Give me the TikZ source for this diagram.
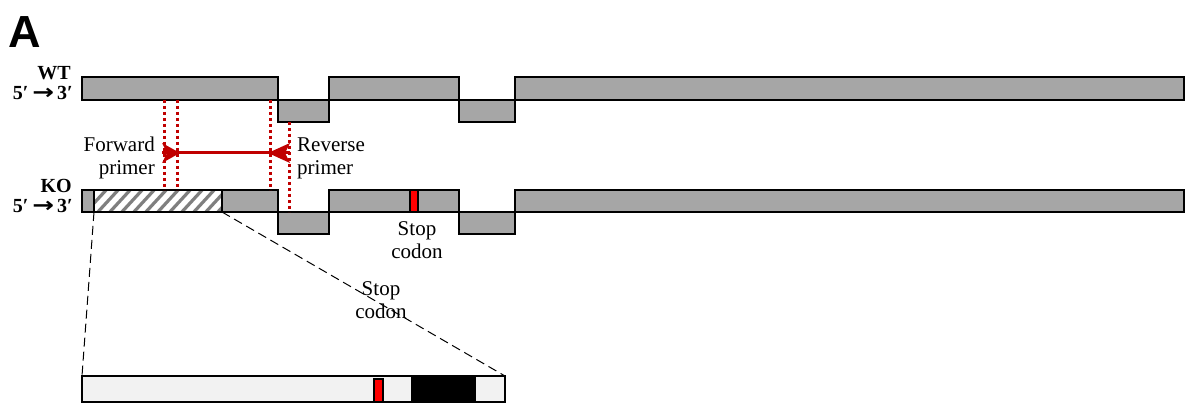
\documentclass[tikz,border=0pt]{standalone}
\usepackage{fontspec}
\setmainfont{Liberation Serif}
\newfontfamily\panelfont{Liberation Sans}
\newfontfamily\symfont{DejaVu Sans}
\usetikzlibrary{arrows.meta}
\definecolor{exongray}{HTML}{A6A6A6}
\definecolor{stripegray}{HTML}{7F7F7F}
\definecolor{primerred}{HTML}{C00000}
\definecolor{stopred}{HTML}{FF0000}
\definecolor{zoomfill}{HTML}{F2F2F2}
\newcommand{\dirarrow}{\hspace{0.2em}\scalebox{1.3}[1.05]{\symfont\bfseries →}\hspace{0.15em}}
\begin{document}
\begin{tikzpicture}[x=1pt,y=-1pt,
  exon/.style={draw=black, line width=2.6pt, fill=exongray},
  box/.style={draw=black, line width=2.6pt, rectangle, inner sep=0pt, outer sep=0pt, anchor=north west},
  stopmark/.style={draw=black, line width=2pt, fill=stopred},
  primerline/.style={draw=primerred, line width=3pt},
  primerhead/.style={fill=primerred},
  guide/.style={draw=primerred, line width=3pt, dash pattern=on 3pt off 3pt},
  zoomline/.style={draw=black, line width=1pt, dash pattern=on 9pt off 5pt},
  lab/.style={font=\fontsize{21}{23}\selectfont, inner sep=0pt},
  strand/.style={font=\bfseries\fontsize{20}{20}\selectfont, inner sep=0pt, anchor=base east},
  hatchline/.style={draw=stripegray, line width=3.2pt}]
\useasboundingbox (0,0) rectangle (1187,403);

% panel letter
\node[font=\panelfont\bfseries\fontsize{45}{45}\selectfont, inner sep=0pt, anchor=base west] (panel) at (8,48) {A};

% strand labels
\node[strand] (wt) at (71,80) {WT};
\node[strand] (wtdir) at (73,100) {5′\dirarrow3′};
\node[strand] (ko) at (72,193) {KO};
\node[strand] (kodir) at (73,213) {5′\dirarrow3′};

% WT gene model
\draw[exon] (82,77) rectangle (278,100);
\draw[exon] (278,100) rectangle (329,122);
\draw[exon] (329,77) rectangle (459,100);
\draw[exon] (459,100) rectangle (515,122);
\draw[exon] (515,77) rectangle (1184,100);

% KO gene model
\draw[exon] (82,190) rectangle (278,212);
\draw[exon] (278,212) rectangle (329,234);
\draw[exon] (329,190) rectangle (459,212);
\draw[exon] (459,212) rectangle (515,234);
\draw[exon] (515,190) rectangle (1184,212);

% replaced (hatched) region
\fill[white] (94,190) rectangle (222,212);
\begin{scope}
  \clip (94,190) rectangle (222,212);
  \foreach \s in {72,84,...,240}{\draw[hatchline] (\s,214) -- ++(24,-26);}
\end{scope}
\node[box, minimum width=128, minimum height=22] (mut) at (94,190) {};

% premature stop codon in the KO allele
\draw[stopmark] (410,190) rectangle (418,212);
\node[lab, anchor=base, align=center] (stop1) at (417,259) {Stop\\codon};

% primer positions
\coordinate (f1t) at (164,100); \coordinate (f1b) at (164,190);
\coordinate (f2t) at (177,100); \coordinate (f2b) at (177,190);
\coordinate (r1t) at (270,100); \coordinate (r1b) at (270,190);
\coordinate (r2t) at (289,122); \coordinate (r2b) at (289,212);
\draw[guide] (f1t) -- (f1b);
\draw[guide] (f2t) -- (f2b);
\draw[guide] (r1t) -- (r1b);
\draw[guide] (r2t) -- (r2b);

% amplicon with the two primer heads
\coordinate (fwdtail) at (162,153);
\coordinate (fwdtip) at (180,153);
\coordinate (revtail) at (290,153);
\coordinate (revtip) at (268,153);
\draw[primerline] (fwdtail) -- (revtail);
\fill[primerhead] (fwdtip) -- ++(-18,-10) -- ++(5,10) -- ++(-5,10) -- cycle;
\fill[primerhead] (revtip) -- ++(22,-10) -- ++(-5,10) -- ++(5,10) -- cycle;

\node[lab, anchor=base east, align=right] (fwdlab) at (155,175) {Forward\\primer};
\node[lab, anchor=base west, align=left] (revlab) at (297,175) {Reverse\\primer};

% enlarged view of the replaced region
\node[box, fill=zoomfill, minimum width=423, minimum height=26] (detail) at (82,376) {};
\fill[black] (411,376) rectangle (476,402);
\draw[stopmark] (374,379) rectangle (383,402);
\draw[draw=black, line width=2.6pt] (82,376) rectangle (505,402);

\draw[zoomline] (mut.south west) -- (detail.north west);
\draw[zoomline] (mut.south east) -- (detail.north east);

\node[lab, anchor=base, align=center] (stop2) at (381,319) {Stop\\codon};
\end{tikzpicture}
\end{document}
